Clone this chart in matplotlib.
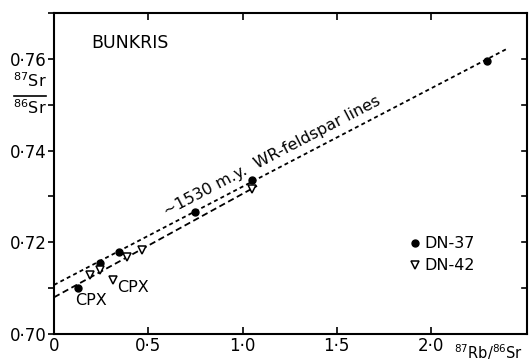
import numpy as np
import matplotlib.pyplot as plt
from matplotlib.lines import Line2D

# DN-37 whole rock / mineral points (filled circles)
dn37_x = [0.127, 0.244, 0.345, 0.748, 1.050, 2.297]
dn37_y = [0.7100, 0.7154, 0.7178, 0.7265, 0.7335, 0.7596]
# DN-42 points (open down-triangles)
dn42_x = [0.191, 0.244, 0.313, 0.387, 0.467, 1.050]
dn42_y = [0.7128, 0.7139, 0.7117, 0.7167, 0.7183, 0.7317]

# the two ~1530 m.y. isochron lines (start / end)
line37_x = [0.0, 2.403]
line37_y = [0.7107, 0.7622]
line42_x = [0.0, 1.077]
line42_y = [0.7080, 0.7323]

xticks = [0, 0.5, 1.0, 1.5, 2.0]
xlabels = ['0', '0·5', '1·0', '1·5', '2·0']
yticks = [0.70, 0.72, 0.74, 0.76]
ylabels = ['0·70', '0·72', '0·74', '0·76']

plt.rcParams['font.family'] = 'DejaVu Sans'
plt.rcParams['mathtext.fontset'] = 'dejavusans'

W, H = 529, 363
fig = plt.figure(figsize=(W / 100, H / 100), dpi=100)
ax = fig.add_axes([54 / W, 1 - 334 / H, (527 - 54) / W, (334 - 13) / H])

ax.plot(line37_x, line37_y, color='black', lw=1.3, dashes=(2.2, 1.8))
ax.plot(line42_x, line42_y, color='black', lw=1.3, dashes=(3.5, 2))

ax.plot(dn37_x, dn37_y, 'o', ms=5, color='black', zorder=3)
ax.plot(dn42_x, dn42_y, 'v', ms=6, mfc='white', mec='black', mew=1.1, zorder=3)

ax.set_xlim(0, 2.509)
ax.set_ylim(0.70, 0.7698)

ax.set_xticks(xticks)
ax.set_xticklabels(xlabels, fontsize=12)
ax.set_yticks(yticks)
ax.set_yticklabels(ylabels, fontsize=12)
ax.set_yticks(np.arange(0.71, 0.77, 0.02), minor=True)

ax.tick_params(axis='x', direction='in', top=True, length=5, width=1.2, pad=2)
ax.tick_params(axis='y', which='both', direction='out', length=4, width=1.2, pad=1)
for s in ax.spines.values():
    s.set_linewidth(1.5)

# inward ticks on the right side
for yv in np.arange(0.71, 0.765, 0.01):
    ax.plot([2.509, 2.48], [yv, yv], color='black', lw=1.2, clip_on=False)

ax.text(0.2, 0.7635, 'BUNKRIS', fontsize=12.5, va='center', ha='left')
ax.text(1.156, 0.7388, '~1530 m.y.  WR-feldspar lines', fontsize=11.5,
        rotation=27.6, ha='center', va='center', rotation_mode='anchor')
ax.text(0.196, 0.7074, 'CPX', fontsize=11.5, ha='center', va='center')
ax.text(0.419, 0.7102, 'CPX', fontsize=11.5, ha='center', va='center')

# key
ax.plot([1.915], [0.7198], 'o', ms=5, color='black')
ax.plot([1.915], [0.7150], 'v', ms=6, mfc='white', mec='black', mew=1.1)
ax.text(1.963, 0.7198, 'DN-37', fontsize=11.5, va='center')
ax.text(1.963, 0.7150, 'DN-42', fontsize=11.5, va='center')

# y axis label as a fraction
fig.text(30 / W, 1 - 81 / H, r'$^{87}$Sr', fontsize=11.5, ha='center', va='center')
fig.text(30 / W, 1 - 108 / H, r'$^{86}$Sr', fontsize=11.5, ha='center', va='center')
fig.add_artist(Line2D([14 / W, 46 / W], [1 - 96 / H, 1 - 96 / H], color='black', lw=1.2))

# x axis label
fig.text(454 / W, 1 - 352 / H, r'$^{87}$Rb/$^{86}$Sr', fontsize=10.5, ha='left', va='center')

fig.savefig('out.png', dpi=100)
